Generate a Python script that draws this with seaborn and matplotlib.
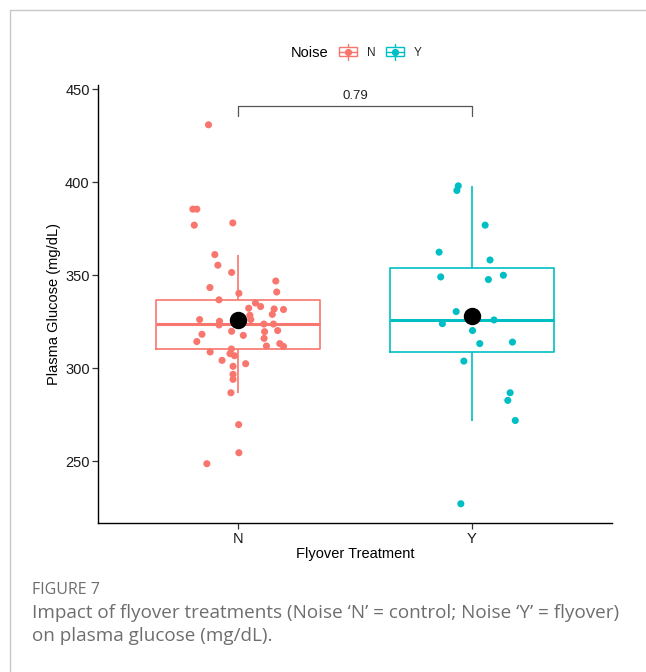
import numpy as np
import pandas as pd
import matplotlib
matplotlib.use("Agg")
import matplotlib.pyplot as plt
import seaborn as sns
from matplotlib.legend_handler import HandlerBase
from matplotlib.patches import Rectangle
from matplotlib.lines import Line2D

# ---------------- data ----------------
categories = ["N", "Y"]
group_colors = ["#F8766D", "#00BFC4"]

glucose_N = [430.8, 385.5, 385.5, 376.9, 378.1, 361.1, 355.4, 351.5, 343.4, 346.9,
             341.0, 340.3, 336.8, 335.1, 333.2, 332.3, 331.9, 331.6, 329.0, 328.5,
             326.2, 326.2, 325.3, 323.3, 323.8, 323.8, 318.3, 319.9, 317.7, 319.7,
             320.3, 314.4, 316.1, 313.3, 311.8, 312.0, 308.8, 310.4, 307.9, 306.8,
             304.3, 302.5, 301.1, 296.8, 294.1, 286.9, 269.8, 254.7, 248.8]
jitter_N = [-0.127, -0.194, -0.177, -0.188, -0.023, -0.100, -0.087, -0.028, -0.121, 0.161,
            0.165, 0.003, -0.082, 0.074, 0.096, 0.045, 0.154, 0.194, 0.146, 0.050,
            0.054, -0.165, -0.080, -0.082, 0.110, 0.151, -0.155, -0.028, 0.022, 0.113,
            0.169, -0.177, 0.111, 0.178, 0.194, 0.121, -0.120, -0.029, -0.035, -0.016,
            -0.069, 0.032, -0.022, -0.022, -0.022, -0.031, 0.002, 0.003, -0.134]

glucose_Y = [398.0, 395.5, 376.9, 362.4, 358.2, 349.1, 347.7, 350.0, 330.5, 324.0,
             326.0, 320.3, 313.3, 314.1, 303.9, 286.9, 282.8, 272.0, 227.3]
jitter_Y = [-0.058, -0.064, 0.057, -0.140, 0.078, -0.133, 0.071, 0.135, -0.067, -0.126,
            0.095, 0.003, 0.034, 0.174, -0.034, 0.164, 0.154, 0.186, -0.047]

y_ticks = [250, 300, 350, 400, 450]
p_value_label = "0.79"

# ---------------- build table ----------------
df = pd.DataFrame({
    "Noise": ["N"] * len(glucose_N) + ["Y"] * len(glucose_Y),
    "Glucose": glucose_N + glucose_Y,
    "jitter": jitter_N + jitter_Y,
})
df["xpos"] = df["Noise"].map({c: i for i, c in enumerate(categories)}) + df["jitter"]
palette = dict(zip(categories, group_colors))

sns.set_theme(style="white")
plt.rcParams["font.family"] = ["Liberation Sans", "DejaVu Sans"]

W, H = 646, 672
fig = plt.figure(figsize=(W / 100, H / 100), dpi=100)
fig.patch.set_facecolor("white")

ax_l, ax_r, ax_t, ax_b = 98, 612, 85.3, 523.3
ax = fig.add_axes([ax_l / W, (H - ax_b) / H, (ax_r - ax_l) / W, (ax_b - ax_t) / H])
ax.set_facecolor("white")

sns.boxplot(data=df, x="Noise", y="Glucose", hue="Noise", order=categories,
            hue_order=categories, palette=palette, fill=False, width=0.7,
            showfliers=False, showcaps=False, linewidth=1.2,
            medianprops={"linewidth": 2.2}, legend=False, ax=ax)

sns.scatterplot(data=df, x="xpos", y="Glucose", hue="Noise", hue_order=categories,
                palette=palette, s=26, edgecolor="none", linewidth=0,
                legend=False, ax=ax, zorder=3)

sns.pointplot(data=df, x="Noise", y="Glucose", order=categories, estimator="mean",
              errorbar=None, color="black", linestyle="none", markers="o",
              markersize=10.5, ax=ax, zorder=4)

ax.set_xlim(-0.6, 1.6)
ax.set_ylim(216.8, 452)
ax.set_xticks(range(len(categories)))
ax.set_xticklabels(categories)
ax.set_yticks(y_ticks)
ax.set_yticklabels([str(t) for t in y_ticks])

for s in ["top", "right"]:
    ax.spines[s].set_visible(False)
for s in ["left", "bottom"]:
    ax.spines[s].set_color("black")
    ax.spines[s].set_linewidth(1.0)
ax.tick_params(axis="both", which="both", length=4, width=0.9, color="#333333",
               labelsize=10.5, labelcolor="#1a1a1a", pad=2, left=True, bottom=True)
ax.grid(False)

ax.set_xlabel("Flyover Treatment", fontsize=10.5, color="black", labelpad=1)
ax.set_ylabel("Plasma Glucose (mg/dL)", fontsize=10.5, color="black", labelpad=3)

# significance bracket
ax.plot([0, 0, 1, 1], [435.5, 441, 441, 435.5], color="#555555", lw=0.9, clip_on=False)
ax.text(0.5, 442.8, p_value_label, ha="center", va="bottom", fontsize=9.5, color="#222222")

# ---------------- legend ----------------
class BoxKeyHandler(HandlerBase):
    def create_artists(self, legend, orig_handle, xdescent, ydescent, width, height,
                       fontsize, trans):
        c = orig_handle.get_color()
        x0, y0 = -xdescent, -ydescent
        cx, cy = x0 + width / 2, y0 + height / 2
        # sizes in points
        bw, bh, wl = width, 6.2, 2.6
        arts = [
            Rectangle((cx - bw / 2, cy - bh / 2), bw, bh, facecolor="white",
                      edgecolor=c, lw=1.0, transform=trans),
            Line2D([cx - bw / 2, cx + bw / 2], [cy, cy], color=c, lw=1.0, transform=trans),
            Line2D([cx, cx], [cy + bh / 2, cy + bh / 2 + wl], color=c, lw=1.0, transform=trans),
            Line2D([cx, cx], [cy - bh / 2, cy - bh / 2 - wl], color=c, lw=1.0, transform=trans),
            Line2D([cx], [cy], marker="o", markersize=4.2, color=c, lw=0, transform=trans),
        ]
        return arts

handles = [Line2D([], [], color=c) for c in group_colors]
hmap = {h: BoxKeyHandler() for h in handles}
fig.text(291 / W, 1 - 53 / H, "Noise", ha="left", va="center", fontsize=10.5, color="black")
fig.legend(handles, categories, handler_map=hmap, loc="center left",
           bbox_to_anchor=(331 / W, 1 - 52 / H), ncol=2, frameon=False,
           fontsize=8.5, handlelength=1.5, handleheight=1.3, handletextpad=0.85,
           columnspacing=0.9, borderpad=0.2)

# ---------------- caption & frame ----------------
cap_font = ["Open Sans", "DejaVu Sans"]
fig.text(32 / W, 1 - 590 / H, "FIGURE 7", ha="left", va="center", fontsize=11.5,
         color="#6e6e6e", family=cap_font)
fig.text(32 / W, 1 - 613 / H,
         "Impact of flyover treatments (Noise \u2018N\u2019 = control; Noise \u2018Y\u2019 = flyover)",
         ha="left", va="center", fontsize=13.6, color="#6e6e6e", family=cap_font)
fig.text(32 / W, 1 - 636 / H, "on plasma glucose (mg/dL).", ha="left", va="center",
         fontsize=13.6, color="#6e6e6e", family=cap_font)

fig.add_artist(Line2D([9.5 / W, 9.5 / W], [0, 1 - 9.5 / H], color="#c8c8c8", lw=1.0,
                      transform=fig.transFigure))
fig.add_artist(Line2D([9.5 / W, 1], [1 - 9.5 / H, 1 - 9.5 / H], color="#c8c8c8", lw=1.0,
                      transform=fig.transFigure))

fig.savefig("out.png", dpi=100, facecolor="white")
